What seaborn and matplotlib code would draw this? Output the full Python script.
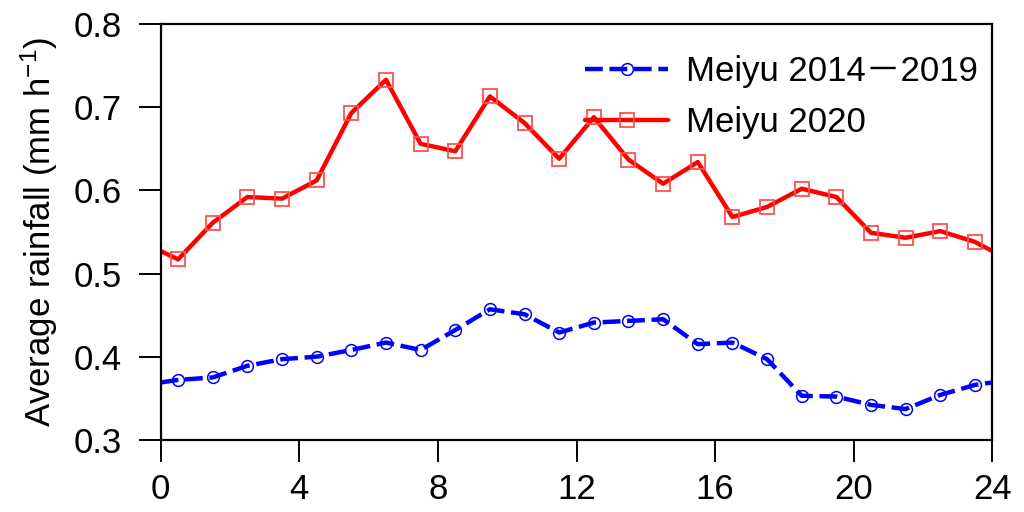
import pandas as pd
import matplotlib
matplotlib.use("Agg")
import matplotlib.pyplot as plt
import seaborn as sns

HOURS = [0.5, 1.5, 2.5, 3.5, 4.5, 5.5, 6.5, 7.5, 8.5, 9.5, 10.5, 11.5,
         12.5, 13.5, 14.5, 15.5, 16.5, 17.5, 18.5, 19.5, 20.5, 21.5, 22.5, 23.5]

MEIYU_CLIM = [0.372, 0.375, 0.389, 0.397, 0.400, 0.408, 0.417, 0.408, 0.432, 0.457, 0.451, 0.429,
              0.441, 0.443, 0.445, 0.415, 0.417, 0.397, 0.353, 0.352, 0.342, 0.337, 0.354, 0.366]
MEIYU_2020 = [0.517, 0.561, 0.592, 0.590, 0.612, 0.693, 0.733, 0.656, 0.647, 0.713, 0.681, 0.638,
              0.688, 0.637, 0.608, 0.634, 0.568, 0.580, 0.602, 0.592, 0.549, 0.543, 0.551, 0.538]

# value of each curve at the plot edges (0 h and 24 h)
EDGE_CLIM = 0.369
EDGE_2020 = 0.527

LABEL_CLIM = "Meiyu 2014\uff0d2019"
LABEL_2020 = "Meiyu 2020"


def with_edges(vals, edge):
    return pd.DataFrame({"hour": [0] + HOURS + [24], "rain": [edge] + vals + [edge]})


def run():
    sns.set_style("ticks")
    plt.rcParams["font.family"] = ["Liberation Sans", "Noto Sans CJK SC", "DejaVu Sans"]
    plt.rcParams["mathtext.default"] = "regular"
    for key in ["text.color", "axes.labelcolor", "xtick.color", "ytick.color", "axes.edgecolor"]:
        plt.rcParams[key] = "black"

    fig = plt.figure(figsize=(10.24, 5.12), dpi=100)
    ax = fig.add_axes([0.157, 0.141, 0.812, 0.812])

    sns.lineplot(data=with_edges(MEIYU_CLIM, EDGE_CLIM), x="hour", y="rain", ax=ax,
                 color="#0000ff", linewidth=3.2, dashes=False, linestyle=(0, (4, 1.5)),
                 marker="o", ms=8.5, mfc="none", mec="#0000ff", mew=1.1,
                 markevery=slice(1, -1), label=LABEL_CLIM)
    sns.lineplot(data=with_edges(MEIYU_2020, EDGE_2020), x="hour", y="rain", ax=ax,
                 color="#ff0000", linewidth=3.2,
                 marker="s", ms=10, mfc="none", mec="#ff5050", mew=1.3,
                 markevery=slice(1, -1), label=LABEL_2020)

    ax.set_xlim(0, 24)
    ax.set_ylim(0.3, 0.8)
    ax.set_xticks(range(0, 25, 4))
    ax.set_yticks([0.3, 0.4, 0.5, 0.6, 0.7, 0.8])
    ax.set_yticklabels(["0.3", "0.4", "0.5", "0.6", "0.7", "0.8"])
    ax.set_xlabel("")
    ax.set_ylabel("Average rainfall (mm h$^{-1}$)", fontsize=25, labelpad=10)
    ax.tick_params(direction="out", length=16, width=1.4, labelsize=25, pad=8,
                   top=False, right=False)
    ax.tick_params(axis="y", pad=12)
    for sp in ax.spines.values():
        sp.set_linewidth(1.6)

    ax.legend(loc="upper right", bbox_to_anchor=(1.02, 1.0), frameon=False,
              fontsize=25, handlelength=2.4, handletextpad=0.5, labelspacing=0.5)

    fig.savefig("out.png", dpi=100)
    plt.close(fig)


if __name__ == "__main__":
    run()
